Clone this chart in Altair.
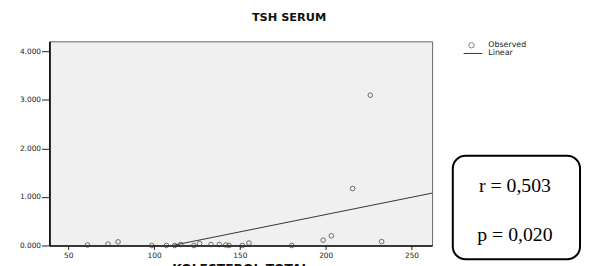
import altair as alt
import pandas as pd

kolesterol = [61.2, 73.1, 79.0, 98.6, 107.2, 112.0, 115.5, 123.2, 126.5, 133.2, 138.0,
              141.8, 143.7, 151.4, 155.3, 180.2, 198.5, 203.3, 215.7, 226.0, 232.6]
tsh = [0.01, 0.03, 0.075, 0.0, 0.0, 0.0, 0.02, 0.0, 0.04, 0.02, 0.02,
       0.01, 0.0, 0.0, 0.05, 0.0, 0.11, 0.20, 1.175, 3.10, 0.08]

x_ticks = [50, 100, 150, 200, 250]
y_ticks = [0, 1, 2, 3, 4]
x_domain = [39, 262]
y_domain = [0, 4.21]

title_text = "TSH SERUM"
x_title = "KOLESTEROL TOTAL"
legend_labels = ["Observed", "Linear"]
stats_lines = ["r = 0,503", "p = 0,020"]

df = pd.DataFrame({"x": kolesterol, "y": tsh})

W, H = 388, 207
FONT = "DejaVu Sans"
INK = "#333333"

xs = alt.X("x:Q", scale=alt.Scale(domain=x_domain, nice=False, zero=False),
           axis=alt.Axis(values=x_ticks, title=None, tickSize=4, labelPadding=2,
                         labelFont=FONT, labelFontSize=7.5, labelColor="#222",
                         domainColor="#111", domainWidth=1.5, tickColor="#222", grid=False))
ys = alt.Y("y:Q", scale=alt.Scale(domain=y_domain, nice=False),
           axis=alt.Axis(values=y_ticks, format=".3f", title=None, tickSize=8, labelPadding=1,
                         labelFont=FONT, labelFontSize=7.5, labelColor="#222",
                         domainColor="#111", domainWidth=1.8, tickColor="#222", grid=False))

base = alt.Chart(df)

points = base.mark_point(shape="circle", filled=False, size=22, strokeWidth=1,
                         color=INK).encode(x=xs, y=ys)

line = base.transform_regression("x", "y", extent=x_domain).mark_line(
    color=INK, strokeWidth=1, clip=True).encode(x=xs, y=ys)

one = pd.DataFrame({"a": [0]})
ann = alt.Chart(one)

title = ann.mark_text(font=FONT, fontWeight="bold", fontSize=11.5, color="#111",
                      baseline="alphabetic", align="center").encode(
    x=alt.value(243), y=alt.value(-21), text=alt.value(title_text))

xtitle = ann.mark_text(font=FONT, fontWeight="bold", fontSize=12.5, color="#111",
                       baseline="alphabetic", align="center").encode(
    x=alt.value(194), y=alt.value(235), text=alt.value(x_title))

leg_pt = ann.mark_point(shape="circle", filled=False, size=30, strokeWidth=0.9,
                        color=INK).encode(x=alt.value(428), y=alt.value(4))
leg_ln = ann.mark_rule(color=INK, strokeWidth=1).encode(
    x=alt.value(420), x2=alt.value(439), y=alt.value(12.3))
leg_t1 = ann.mark_text(font=FONT, fontSize=8, color="#222", align="left",
                       baseline="middle").encode(
    x=alt.value(445), y=alt.value(4), text=alt.value(legend_labels[0]))
leg_t2 = ann.mark_text(font=FONT, fontSize=8, color="#222", align="left",
                       baseline="middle").encode(
    x=alt.value(445), y=alt.value(12.3), text=alt.value(legend_labels[1]))

box = ann.mark_rect(fill="white", stroke="black", strokeWidth=2, cornerRadius=13).encode(
    x=alt.value(409), x2=alt.value(538), y=alt.value(116), y2=alt.value(221))
st1 = ann.mark_text(font="Liberation Serif", fontSize=20, color="black", align="center",
                    baseline="alphabetic").encode(
    x=alt.value(472), y=alt.value(152.7), text=alt.value(stats_lines[0]))
st2 = ann.mark_text(font="Liberation Serif", fontSize=20, color="black", align="center",
                    baseline="alphabetic").encode(
    x=alt.value(472), y=alt.value(202.7), text=alt.value(stats_lines[1]))

chart = alt.layer(points, line, title, xtitle, leg_pt, leg_ln, leg_t1, leg_t2,
                  box, st1, st2).properties(
    width=W, height=H,
    autosize=alt.AutoSizeParams(type="none"),
    padding={"left": 42, "top": 32, "right": 152, "bottom": 19},
    background="white",
).configure_view(
    fill="#f0f0f0", stroke="#666666", strokeWidth=1
)

chart.save("out.html", embed_options={"renderer": "svg", "actions": False})
